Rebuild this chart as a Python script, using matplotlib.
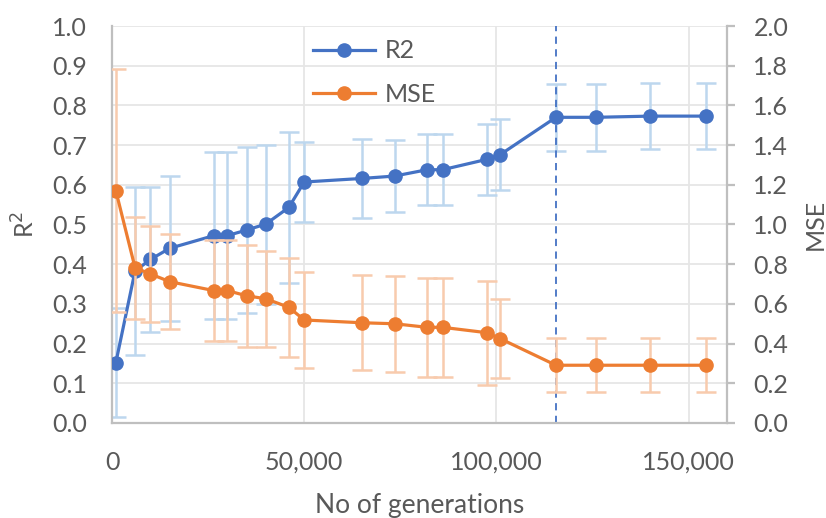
import matplotlib
matplotlib.use("Agg")
import matplotlib.pyplot as plt
from matplotlib.ticker import FuncFormatter, MultipleLocator

plt.rcParams['font.family'] = ['Lato', 'DejaVu Sans']

# generations (x values)
gens = [1000, 6000, 10000, 15000, 26500, 30000, 35000, 40000, 46000, 50000,
        65000, 73500, 82000, 86000, 97500, 101000, 115500, 126000, 140000, 154500]

r2 = [0.152, 0.383, 0.412, 0.440, 0.472, 0.472, 0.486, 0.501, 0.543, 0.607,
      0.616, 0.622, 0.638, 0.638, 0.664, 0.676, 0.770, 0.770, 0.773, 0.773]
r2_err = [0.138, 0.211, 0.182, 0.182, 0.210, 0.210, 0.210, 0.200, 0.190, 0.100,
          0.100, 0.091, 0.090, 0.090, 0.090, 0.090, 0.084, 0.084, 0.084, 0.084]

mse = [1.170, 0.782, 0.751, 0.712, 0.667, 0.667, 0.641, 0.626, 0.583, 0.519,
       0.505, 0.500, 0.482, 0.482, 0.455, 0.425, 0.291, 0.291, 0.291, 0.291]
mse_err = [0.612, 0.257, 0.242, 0.238, 0.256, 0.256, 0.258, 0.243, 0.248, 0.240,
           0.240, 0.242, 0.248, 0.248, 0.262, 0.200, 0.136, 0.136, 0.136, 0.136]

best_gen = 115500

BLUE = '#4472C4'
ORANGE = '#ED7D31'
LBLUE = '#BDD7EE'
LORANGE = '#F8CBAD'
GRID = '#E6E6E6'
AXIS = '#BFBFBF'
TXT = '#595959'
FS = 18

fig = plt.figure(figsize=(8.26, 5.18), dpi=100)
ax = fig.add_axes([112/826, 1-423/518, (727-112)/826, (423-26)/518])
ax2 = ax.twinx()

ax.errorbar(gens, r2, yerr=r2_err, fmt='none', ecolor=LBLUE, elinewidth=1.8,
            capsize=7, capthick=1.8, zorder=2)
l1, = ax.plot(gens, r2, color=BLUE, lw=2.3, marker='o', ms=9.5, zorder=3, label='R2')
ax.axvline(best_gen, color=BLUE, ls=(0, (4, 3)), lw=1.3, zorder=2)

ax2.errorbar(gens, mse, yerr=mse_err, fmt='none', ecolor=LORANGE, elinewidth=1.8,
             capsize=7, capthick=1.8, zorder=2)
l2, = ax2.plot(gens, mse, color=ORANGE, lw=2.3, marker='o', ms=9.5, zorder=3, label='MSE')

ax.set_xlim(0, 160000)
ax.set_ylim(0, 1.0)
ax2.set_ylim(0, 2.0)
ax.xaxis.set_major_locator(MultipleLocator(50000))
ax.yaxis.set_major_locator(MultipleLocator(0.1))
ax2.yaxis.set_major_locator(MultipleLocator(0.2))
ax.xaxis.set_major_formatter(FuncFormatter(lambda v, p: f"{int(v):,}"))
ax.yaxis.set_major_formatter(FuncFormatter(lambda v, p: f"{v:.1f}"))
ax2.yaxis.set_major_formatter(FuncFormatter(lambda v, p: f"{v:.1f}"))

ax.grid(True, color=GRID, lw=1.3, zorder=0)
ax.set_axisbelow(True)

for a in (ax, ax2):
    a.spines['top'].set_visible(False)
    for s in ('left', 'right', 'bottom'):
        a.spines[s].set_color(AXIS)
        a.spines[s].set_linewidth(1.6)
ax.spines['right'].set_visible(False)
ax2.spines['left'].set_visible(False)
ax2.spines['bottom'].set_visible(False)

ax.tick_params(axis='y', length=0, pad=18, labelsize=FS, labelcolor=TXT)
ax.tick_params(axis='x', length=0, pad=20, labelsize=FS, labelcolor=TXT)
ax2.tick_params(axis='y', length=6, width=1.6, color=AXIS, pad=13,
                labelsize=FS, labelcolor=TXT)

ax.set_ylabel('R$^2$', fontsize=FS, color=TXT, labelpad=10)
ax2.set_ylabel('MSE', fontsize=FS, color=TXT, labelpad=11)
ax.set_xlabel('No of generations', fontsize=FS + 1, color=TXT, labelpad=14)

leg = ax2.legend(handles=[l1, l2], loc='upper left', bbox_to_anchor=(290/826, 1-17/518),
                 bbox_transform=fig.transFigure, frameon=False, fontsize=FS,
                 handlelength=2.5, labelspacing=0.8, handletextpad=0.4)
for t in leg.get_texts():
    t.set_color(TXT)

fig.savefig('out.png', dpi=100)
